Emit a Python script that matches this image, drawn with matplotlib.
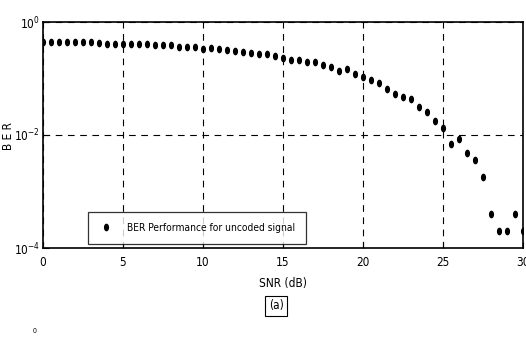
import matplotlib
matplotlib.use("Agg")
import matplotlib.pyplot as plt
from matplotlib import font_manager
from matplotlib.path import Path
import numpy as np

# SNR grid (dB) and measured BER for the uncoded signal
SNR_DB = [0.0, 0.5, 1.0, 1.5, 2.0, 2.5, 3.0, 3.5, 4.0, 4.5,
          5.0, 5.5, 6.0, 6.5, 7.0, 7.5, 8.0, 8.5, 9.0, 9.5,
          10.0, 10.5, 11.0, 11.5, 12.0, 12.5, 13.0, 13.5, 14.0, 14.5,
          15.0, 15.5, 16.0, 16.5, 17.0, 17.5, 18.0, 18.5, 19.0, 19.5,
          20.0, 20.5, 21.0, 21.5, 22.0, 22.5, 23.0, 23.5, 24.0, 24.5,
          25.0, 25.5, 26.0, 26.5, 27.0, 27.5, 28.0, 28.5, 29.0, 29.5,
          30.0]
BER = [0.437, 0.437, 0.437, 0.437, 0.437, 0.437, 0.437, 0.431, 0.414, 0.414,
       0.414, 0.414, 0.403, 0.403, 0.392, 0.392, 0.392, 0.366, 0.366, 0.366,
       0.328, 0.342, 0.337, 0.324, 0.311, 0.299, 0.286, 0.268, 0.268, 0.250,
       0.234, 0.210, 0.210, 0.196, 0.196, 0.173, 0.160, 0.134, 0.145, 0.119,
       0.105, 0.0929, 0.0832, 0.0643, 0.0532, 0.0478, 0.0429, 0.0313, 0.0255, 0.0177,
       0.0131, 0.00703, 0.00861, 0.00486, 0.00356, 0.00183, 4e-4, 2e-4, 2e-4, 4e-4,
       2e-4]

X_TICKS = [0, 5, 10, 15, 20, 25, 30]
Y_TICKS = [1e-4, 1e-2, 1e0]
Y_TICKLABELS = [r"$10^{-4}$", r"$10^{-2}$", r"$10^{0}$"]
LEGEND_LABEL = "BER Performance for uncoded signal"

# the scan uses a narrow Helvetica; take a condensed face if one is installed
_names = {f.name for f in font_manager.fontManager.ttflist}
_condensed = {f.name for f in font_manager.fontManager.ttflist
              if f.stretch in ("condensed", "semi-condensed", "extra-condensed", 75, 87)}
if "Liberation Sans Narrow" in _names:
    FONT, STRETCH, FS = "Liberation Sans Narrow", "normal", 9.5
elif "DejaVu Sans" in _condensed:
    FONT, STRETCH, FS = "DejaVu Sans", "condensed", 7.0
else:
    FONT, STRETCH, FS = "Liberation Sans", "normal", 6.8
plt.rcParams["font.family"] = [FONT, "DejaVu Sans"]
plt.rcParams["font.stretch"] = STRETCH
plt.rcParams["mathtext.fontset"] = "custom"
plt.rcParams["mathtext.rm"] = FONT
plt.rcParams["mathtext.it"] = FONT

# vertically stretched dot, as in the scanned figure
theta = np.linspace(0, 2 * np.pi, 40)
DOT = Path(np.column_stack([0.6 * np.cos(theta), np.sin(theta)]), closed=True)

W, H = 526, 337
fig = plt.figure(figsize=(W / 100, H / 100), dpi=100)
ax = fig.add_axes([43 / W, 1 - 248 / H, (522.5 - 43) / W, (248 - 22) / H])

ax.plot(SNR_DB, BER, linestyle="none", marker=DOT, markersize=4.5,
        color="black", label=LEGEND_LABEL)

ax.set_yscale("log")
ax.set_xlim(0, 30)
ax.set_ylim(1e-4, 1)
ax.set_xticks(X_TICKS)
ax.set_xticklabels([str(t) for t in X_TICKS], fontsize=FS + 1.5)
ax.set_yticks(Y_TICKS)
ax.set_yticklabels(Y_TICKLABELS, fontsize=FS + 1.5)
ax.yaxis.set_minor_locator(matplotlib.ticker.NullLocator())
ax.tick_params(direction="in", length=4, width=0.8, pad=6)
ax.tick_params(axis="y", pad=2)
ax.grid(True, color="black", linestyle=(0, (6, 5)), linewidth=0.8)
for s in ax.spines.values():
    s.set_linewidth(1.2)

leg = ax.legend(loc="lower left", bbox_to_anchor=((88 - 43) / 479.5, 0.018),
                borderaxespad=0, fontsize=FS + 0.3, frameon=True, fancybox=False,
                handlelength=1.4, handletextpad=1.3, borderpad=1.1)
leg.get_frame().set_edgecolor("black")
leg.get_frame().set_linewidth(0.9)

fig.text(9 / W, 1 - 136 / H, "B E R", rotation=90, ha="center", va="center",
         fontsize=FS + 1.5)
fig.text(283 / W, 1 - 284 / H, "SNR (dB)", ha="center", va="center",
         fontsize=FS + 1.5)
fig.text(276 / W, 1 - 306 / H, "(a)", ha="center", va="center", fontsize=FS + 1.5,
         bbox=dict(boxstyle="square,pad=0.3", fc="white", ec="black", lw=0.8))
fig.text(35 / W, 1 - 331 / H, "0", ha="center", va="center", fontsize=5)

fig.savefig("out.png", dpi=100)
